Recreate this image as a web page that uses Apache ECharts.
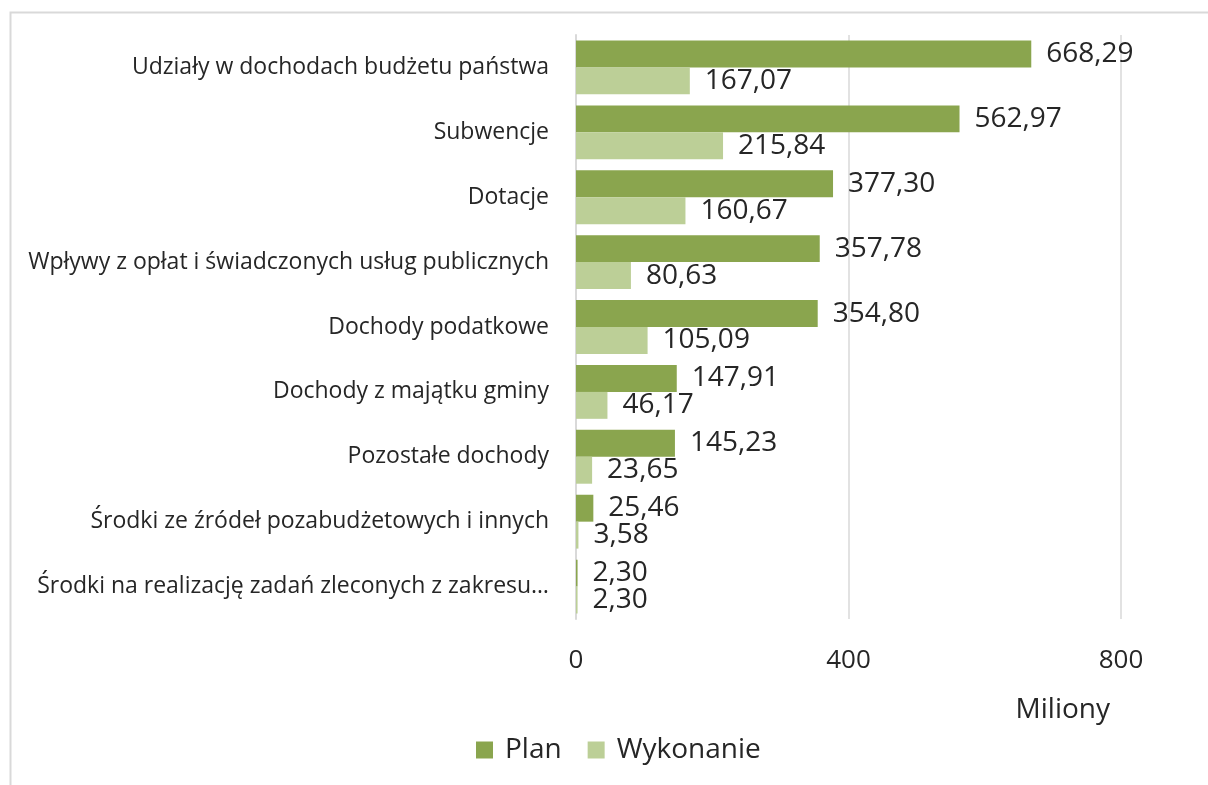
<!DOCTYPE html>
<html>
<head>
<meta charset="utf-8">
<script src="https://cdn.jsdelivr.net/npm/echarts@6/dist/echarts.min.js"></script>
<style>
  html, body { margin: 0; padding: 0; background: #fff; }
  #chart { width: 1208px; height: 785px; }
</style>
</head>
<body>
<div id="chart"></div>
<script>
// categories, top to bottom as in the picture
const categories = [
  "Udziały w dochodach budżetu państwa",
  "Subwencje",
  "Dotacje",
  "Wpływy z opłat i świadczonych usług publicznych",
  "Dochody podatkowe",
  "Dochody z majątku gminy",
  "Pozostałe dochody",
  "Środki ze źródeł pozabudżetowych i innych",
  "Środki na realizację zadań zleconych z zakresu…"
];
const planValues = [668.29, 562.97, 377.30, 357.78, 354.80, 147.91, 145.23, 25.46, 2.30];
const wykonanieValues = [167.07, 215.84, 160.67, 80.63, 105.09, 46.17, 23.65, 3.58, 2.30];
const seriesNames = ["Plan", "Wykonanie"];
const axisName = "Miliony";

const FONT = "Open Sans";
const fmt = (p) => p.value.toFixed(2).replace(".", ",");

const chart = echarts.init(document.getElementById("chart"));

const option = {
  animation: false,
  textStyle: { fontFamily: FONT, color: "#262626" },
  graphic: [{
    type: "rect",
    shape: { x: 10.5, y: 12.5, width: 1400, height: 1000 },
    style: { fill: "none", stroke: "#d9d9d9", lineWidth: 2 },
    silent: true
  }],
  title: {
    text: axisName,
    right: 93,
    top: 691,
    textStyle: { fontFamily: FONT, fontSize: 28, fontWeight: "normal", color: "#262626" }
  },
  legend: {
    data: seriesNames,
    left: 471,
    top: 731,
    itemWidth: 17,
    itemHeight: 17,
    itemGap: 26,
    icon: "rect",
    textStyle: { fontFamily: FONT, fontSize: 28, color: "#262626", padding: [0, 0, 0, 7] }
  },
  grid: {
    left: 576,
    right: 87,
    top: 35,
    bottom: 166,
    containLabel: false
  },
  xAxis: {
    type: "value",
    min: 0,
    max: 800,
    interval: 400,
    axisLine: { show: false },
    axisTick: { show: false },
    splitLine: { lineStyle: { color: "#d9d9d9", width: 1.5 } },
    axisLabel: { fontFamily: FONT, fontSize: 26, color: "#262626", margin: 29 }
  },
  yAxis: {
    type: "category",
    data: categories,
    inverse: true,
    axisLine: { lineStyle: { color: "#d9d9d9", width: 2 } },
    axisTick: { show: false },
    axisLabel: { fontFamily: FONT, fontSize: 23, color: "#262626", margin: 27 }
  },
  series: [
    {
      name: seriesNames[0],
      type: "bar",
      data: planValues,
      barGap: "0%",
      barCategoryGap: "17%",
      itemStyle: { color: "#8aa54e" },
      label: { show: true, position: "right", distance: 15, formatter: fmt,
               fontFamily: FONT, fontSize: 28, color: "#262626" }
    },
    {
      name: seriesNames[1],
      type: "bar",
      data: wykonanieValues,
      barGap: "0%",
      barCategoryGap: "17%",
      itemStyle: { color: "#bccf97" },
      label: { show: true, position: "right", distance: 15, formatter: fmt,
               fontFamily: FONT, fontSize: 28, color: "#262626" }
    }
  ]
};

chart.setOption(option);
</script>
</body>
</html>
